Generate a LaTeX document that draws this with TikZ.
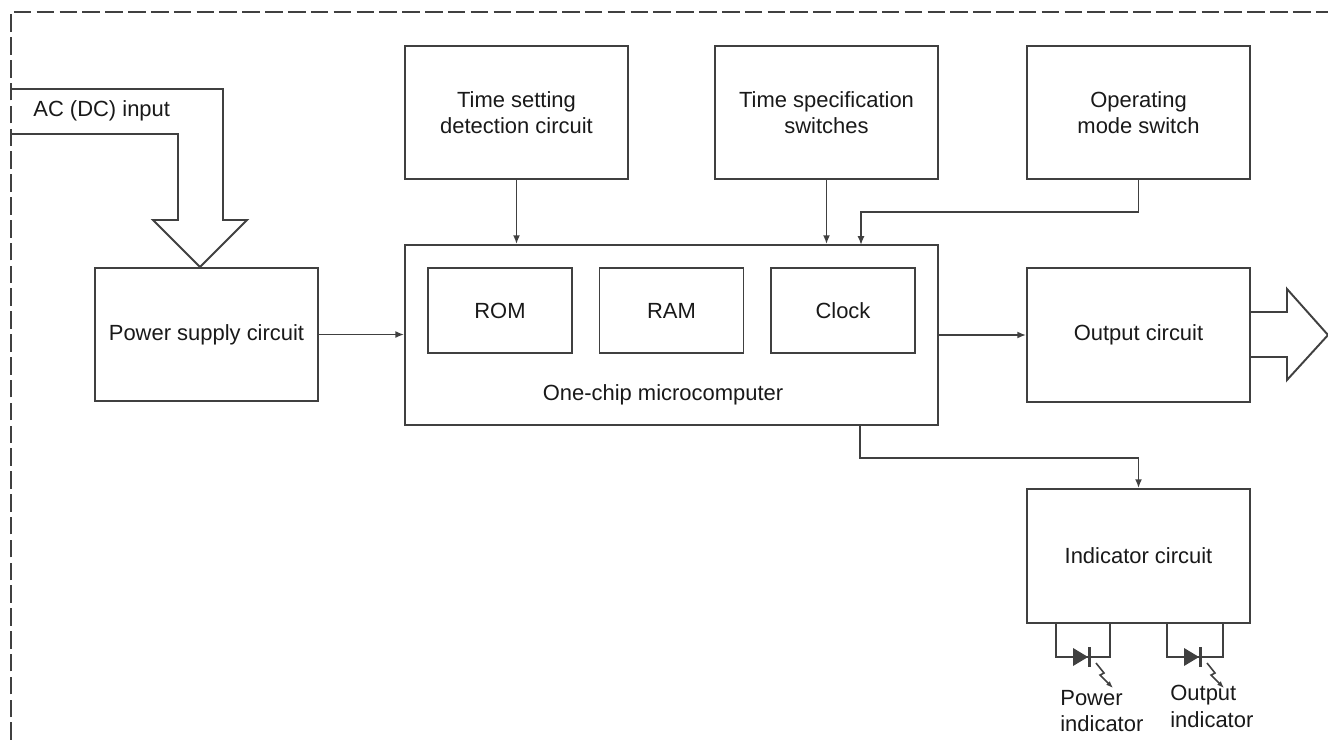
\documentclass[tikz,border=0pt]{standalone}
\usepackage{fontspec}
\setmainfont{Liberation Sans}
\usetikzlibrary{arrows.meta}
\begin{document}
\begin{tikzpicture}[x=0.02cm,y=-0.02cm,
  every node/.style={font=\fontsize{12.5}{15}\selectfont, text=black!90},
  ln/.style={draw=black!75, line width=1.1pt},
  box/.style={ln, rectangle, minimum width=4.46cm, minimum height=2.66cm, inner sep=0pt, align=center},
  membox/.style={ln, rectangle, minimum width=2.88cm, minimum height=1.7cm, inner sep=0pt, align=center},
  arr/.style={ln, -{Latex[length=5pt,width=4pt]}},
  border/.style={draw=black!75, line width=1.2pt, dash pattern=on 10pt off 3pt},
  lbl/.style={align=left, inner sep=0pt, anchor=north west}
]
\useasboundingbox (0,0) rectangle (1328,740);
% dashed enclosure
\draw[border] (11,740) -- (11,12) -- (1328,12);

% boxes
\node[box] (ps)  at (206.5,334.5) {Power supply circuit};
\node[box] (ts)  at (516.5,112.5) {Time setting\\detection circuit};
\node[box] (tsw) at (826.5,112.5) {Time specification\\switches};
\node[box] (om)  at (1138.5,112.5) {Operating\\mode switch};
\node[ln, rectangle, minimum width=10.66cm, minimum height=3.6cm, inner sep=0pt] (mc) at (671.5,335) {};
\node[membox] (rom) at (500,310.5) {ROM};
\node[membox] (ram) at (671.5,310.5) {RAM};
\node[membox] (clk) at (843,310.5) {Clock};
\node (mclbl) at (663,395) {One-chip microcomputer};
\node[box, minimum height=2.68cm] (out) at (1138.5,335) {Output circuit};
\node[box, minimum height=2.68cm] (ind) at (1138.5,556) {Indicator circuit};

% AC input hollow arrow
\draw[ln, line join=miter] (11,89) -- (223,89) -- (223,220) -- (247,220) -- (200,267) -- (153,220) -- (178,220) -- (178,134) -- (11,134);
\node[anchor=west, inner sep=0pt] (aclbl) at (33,111) {AC (DC) input};

% output hollow arrow
\draw[ln, line join=miter] (1250,312) -- (1287,312) -- (1287,289) -- (1328,335) -- (1287,380) -- (1287,357) -- (1250,357);

% connectors
\coordinate (omturn) at (1138.5,212);
\coordinate (mcin2) at (861,245);
\coordinate (mcout2) at (860,425);
\coordinate (mcturn) at (860,458);
\draw[arr] (ts.south) -- (ts.south |- mc.north);
\draw[arr] (tsw.south) -- (tsw.south |- mc.north);
\draw[arr] (om.south) -- (omturn) -| (mcin2);
\draw[arr] (ps.east) -- (ps.east -| mc.west);
\draw[arr] (mc.east) -- (out.west);
\draw[arr] (mcout2) -- (mcturn) -| (ind.north);

% LEDs
\draw[ln] (1056,623) -- (1056,657) -- (1110,657) -- (1110,623);
\fill[black!75] (1073,648) -- (1088,657) -- (1073,666) -- cycle;
\draw[draw=black!75, line width=1.8pt] (1089.5,647) -- (1089.5,667);
\draw[draw=black!75, line width=0.9pt, -{Latex[length=4pt,width=3pt]}] (1096,663) -- (1104,673) -- (1100,675) -- (1113,688);

\draw[ln] (1167,623) -- (1167,657) -- (1223,657) -- (1223,623);
\fill[black!75] (1184,648) -- (1199,657) -- (1184,666) -- cycle;
\draw[draw=black!75, line width=1.8pt] (1200.5,647) -- (1200.5,667);
\draw[draw=black!75, line width=0.9pt, -{Latex[length=4pt,width=3pt]}] (1207,663) -- (1215,673) -- (1211,675) -- (1224,688);

\node[lbl] (pwrlbl) at (1060,690) {Power\\indicator};
\node[lbl] (outlbl) at (1170,685) {Output\\indicator};
\end{tikzpicture}
\end{document}
